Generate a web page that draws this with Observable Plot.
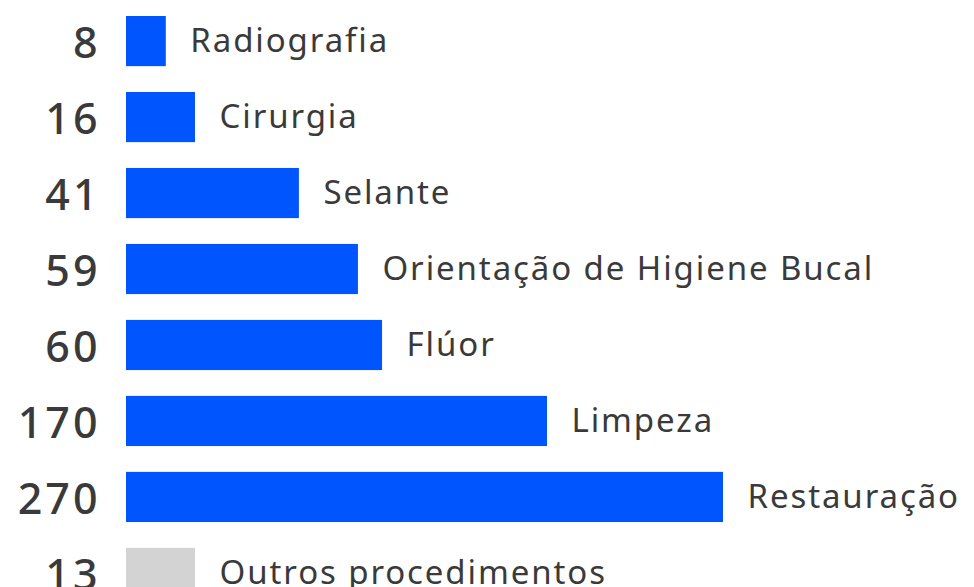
<!DOCTYPE html>
<html>
<head>
<meta charset="utf-8">
<script src="https://cdn.jsdelivr.net/npm/d3@7"></script>
<script src="https://cdn.jsdelivr.net/npm/@observablehq/plot@0.6"></script>
<style>
  html, body { margin: 0; padding: 0; background: #fff; overflow: hidden; }
  #chart svg { display: block; }
</style>
</head>
<body>
<div id="chart"></div>
<script>
// Categories, shown counts, and the drawn bar lengths (same units as the axis)
const categories = ["Radiografia", "Cirurgia", "Selante", "Orientação de Higiene Bucal", "Flúor", "Limpeza", "Restauração", "Outros procedimentos"];
const counts = [8, 16, 41, 59, 60, 170, 270, 13];
const barLengths = [18, 31.2, 78.2, 104.9, 115.8, 190.4, 270, 31.2];
const groups = ["main", "main", "main", "main", "main", "main", "main", "other"];

const data = categories.map((c, i) => ({
  category: c,
  count: counts[i],
  length: barLengths[i],
  group: groups[i]
}));

const chart = Plot.plot({
  width: 974,
  height: 587,
  marginLeft: 126,
  marginRight: 251,
  marginTop: 16,
  marginBottom: -11,
  style: { fontFamily: "'Noto Sans', sans-serif", background: "#fff", overflow: "hidden" },
  x: { domain: [0, 270], axis: null },
  y: { domain: categories, axis: null, paddingInner: 0.34, paddingOuter: 0, round: false },
  color: { domain: ["main", "other"], range: ["#0055ff", "#d3d3d3"] },
  marks: [
    Plot.barX(data, { x: "length", y: "category", fill: "group" }),
    Plot.text(data, {
      x: 0, y: "category", text: (d) => String(d.count),
      textAnchor: "end", dx: -26, dy: 3,
      fontSize: 43, fontWeight: 500, fill: "#3a3a3a"
    }),
    Plot.text(data, {
      x: "length", y: "category", text: "category",
      textAnchor: "start", dx: 24, dy: 0,
      fontSize: 33, fill: "#3a3a3a"
    })
  ]
});
document.getElementById("chart").appendChild(chart);

// widen the lettering like the reference's font
d3.select(chart).selectAll("text").each(function () {
  const t = this.textContent;
  if (categories.includes(t)) this.style.letterSpacing = "1.9px";
  else if (/^\d+$/.test(t)) this.style.letterSpacing = "3px";
});
</script>
</body>
</html>
